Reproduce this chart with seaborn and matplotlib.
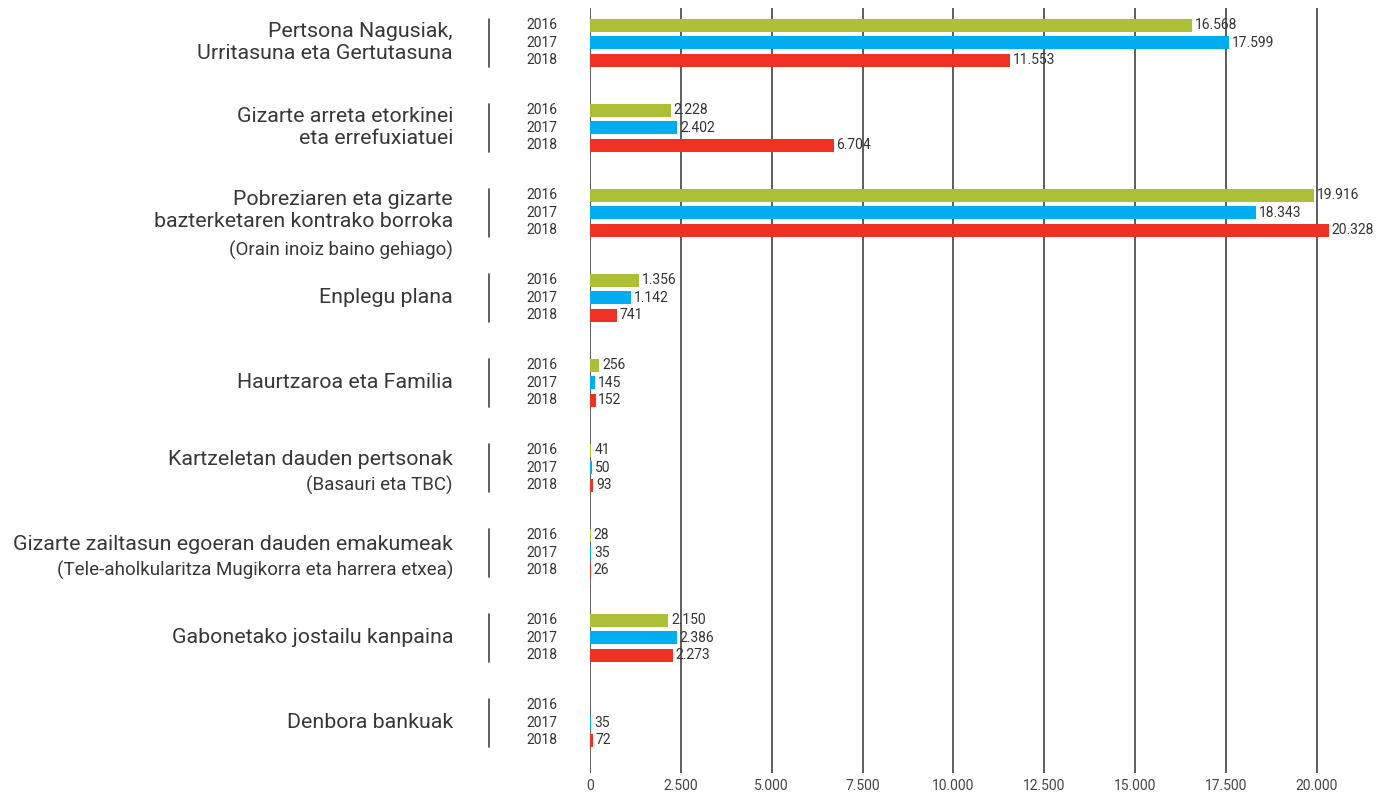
import numpy as np
import pandas as pd
import matplotlib
matplotlib.use("Agg")
import matplotlib.pyplot as plt
from matplotlib.transforms import blended_transform_factory
import seaborn as sns

# Programme names (main label, optional note in parentheses)
categories = [
    "Pertsona Nagusiak,\nUrritasuna eta Gertutasuna",
    "Gizarte arreta etorkinei\neta errefuxiatuei",
    "Pobreziaren eta gizarte\nbazterketaren kontrako borroka",
    "Enplegu plana",
    "Haurtzaroa eta Familia",
    "Kartzeletan dauden pertsonak",
    "Gizarte zailtasun egoeran dauden emakumeak",
    "Gabonetako jostailu kanpaina",
    "Denbora bankuak",
]
notes = [
    None,
    None,
    "(Orain inoiz baino gehiago)",
    None,
    None,
    "(Basauri eta TBC)",
    "(Tele-aholkularitza Mugikorra eta harrera etxea)",
    None,
    None,
]
years = ["2016", "2017", "2018"]
values_2016 = [16568, 2228, 19916, 1356, 256, 41, 28, 2150, np.nan]
values_2017 = [17599, 2402, 18343, 1142, 145, 50, 35, 2386, 35]
values_2018 = [11553, 6704, 20328, 741, 152, 93, 26, 2273, 72]
x_ticks = [0, 2500, 5000, 7500, 10000, 12500, 15000, 17500, 20000]
x_tick_labels = ["0", "2.500", "5.000", "7.500", "10.000", "12.500", "15.000", "17.500", "20.000"]

palette = {"2016": "#abc037", "2017": "#00adee", "2018": "#ef3124"}

rows = []
for yr, vals in zip(years, [values_2016, values_2017, values_2018]):
    for i, v in enumerate(vals):
        rows.append({"cat": i, "year": yr, "value": v})
df = pd.DataFrame(rows)

sns.set_theme(style="white")
plt.rcParams["font.family"] = ["Roboto", "DejaVu Sans"]

W, H = 1381, 794
fig = plt.figure(figsize=(W / 100, H / 100), dpi=100)
ax = fig.add_axes([590 / W, 1 - 773 / H, 763 / W, 765 / H])

bar_width = 0.62
sns.barplot(data=df, y="cat", x="value", hue="year", orient="h",
            palette=palette, saturation=1, width=bar_width, gap=0.26,
            errorbar=None, hue_order=years, order=list(range(len(categories))),
            legend=False, ax=ax, zorder=3, linewidth=0, edgecolor="none")

ax.set_xlim(0, 21000)
ax.set_ylim(8.59, -0.41)
for s in ax.spines.values():
    s.set_visible(False)
ax.set_axisbelow(True)
ax.grid(axis="x", color="#505050", lw=1.3)
ax.grid(axis="y", visible=False)
ax.set_xticks(x_ticks)
ax.set_xticklabels(x_tick_labels, fontsize=10, color="#444444")
ax.tick_params(axis="x", length=0, pad=4)
ax.set_yticks([])
ax.set_xlabel("")
ax.set_ylabel("")

# Value labels at the end of each bar, dot as thousands separator
for cont in ax.containers:
    labels = []
    for bar in cont:
        w = bar.get_width()
        labels.append("" if not np.isfinite(w) or w == 0 else f"{int(round(w)):,}".replace(",", "."))
    ax.bar_label(cont, labels=labels, padding=2, fontsize=10, color="#333333")

trans = blended_transform_factory(fig.transFigure, ax.transData)
step = bar_width / 3
text_color = "#383838"
for i, (cat, note) in enumerate(zip(categories, notes)):
    # year labels next to each bar
    for k, yr in enumerate(years):
        ax.text(557 / W, i + (k - 1) * step, yr, transform=trans, ha="right",
                va="center", fontsize=10, color="#333333")
    # separator line
    ax.plot([489 / W, 489 / W], [i - 0.285, i + 0.285], transform=trans,
            color="#444444", lw=1.2, clip_on=False)
    # programme name
    if note is None:
        ax.annotate(cat, xy=(453 / W, i), xycoords=trans, ha="right", va="center",
                    fontsize=15.4, color=text_color, linespacing=1.2,
                    annotation_clip=False)
    else:
        nlines = cat.count("\n") + 1
        main_off = 2 if nlines > 1 else 8
        note_off = -38 if nlines > 1 else -18
        ax.annotate(cat, xy=(453 / W, i), xycoords=trans, xytext=(0, main_off),
                    textcoords="offset pixels", ha="right", va="center",
                    fontsize=15.4, color=text_color, linespacing=1.2,
                    annotation_clip=False)
        ax.annotate(note, xy=(453 / W, i), xycoords=trans, xytext=(0, note_off),
                    textcoords="offset pixels", ha="right", va="center",
                    fontsize=13.5, color=text_color, annotation_clip=False)

fig.savefig("out.png", dpi=100)
